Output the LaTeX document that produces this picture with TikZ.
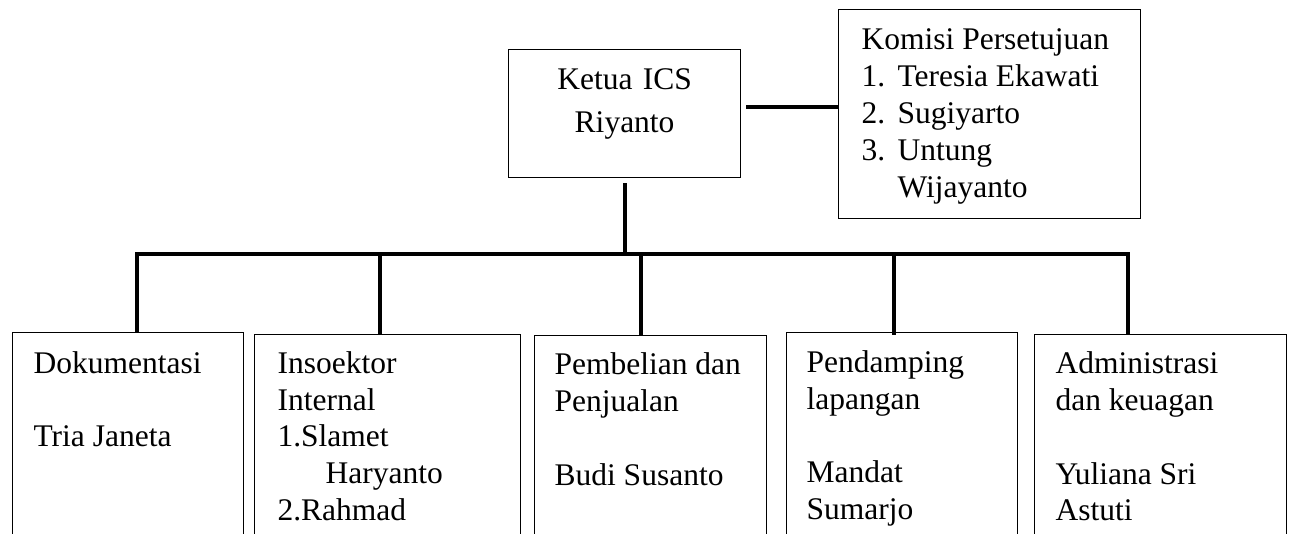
\documentclass[tikz,border=0pt]{standalone}
\usepackage{fontspec}
\setmainfont{Liberation Serif}
\tikzset{
  box/.style={draw, line width=1.2pt, rectangle, anchor=north west, inner ysep=0pt,
    align=left, font=\fontsize{31.5}{36.8}\selectfont,
    execute at begin node={\spaceskip=\fontdimen2\font plus \fontdimen3\font minus \fontdimen4\font\relax}},
  conn/.style={line width=4pt}
}
\begin{document}
\begin{tikzpicture}[x=1pt,y=-1pt]
\useasboundingbox (0,0) rectangle (1293,533);
\fill[white] (0,0) rectangle (1293,533);
\clip (0,0) rectangle (1293,533);

% top boxes
\node[box, align=center, font=\fontsize{31.5}{42.4}\selectfont, inner xsep=10pt,
  text width=212pt, text height=40.3pt, text depth=87.7pt] (ketua) at (508,49)
  {Ketua ICS\\ Riyanto};
\node[box, inner xsep=23pt, text width=256pt, text height=40.3pt, text depth=168.7pt]
  (komisi) at (838,9)
  {Komisi Persetujuan\\
   \makebox[36pt][l]{1.}Teresia Ekawati\\
   \makebox[36pt][l]{2.}Sugiyarto\\
   \makebox[36pt][l]{3.}Untung\\
   \hspace*{36pt}Wijayanto};

% bottom boxes
\node[box, inner xsep=21pt, text width=189pt, text height=40.7pt, text depth=172.3pt]
  (dok) at (12,332) {Dokumentasi\\ \mbox{}\\ Tria Janeta};
\node[box, inner xsep=23pt, text width=220pt, text height=38.7pt, text depth=172.3pt]
  (ins) at (254,334) {Insoektor\\ Internal\\ 1.Slamet\\ \hspace*{48pt}Haryanto\\ 2.Rahmad};
\node[box, inner xsep=20pt, text width=192pt, text height=39pt, text depth=171pt]
  (pem) at (534,335) {Pembelian dan\\ Penjualan\\ \mbox{}\\ Budi Susanto};
\node[box, inner xsep=20pt, text width=191pt, text height=39.7pt, text depth=173.3pt]
  (pen) at (786,332) {Pendamping\\ lapangan\\ \mbox{}\\ Mandat\\ Sumarjo};
\node[box, inner xsep=21pt, text width=210pt, text height=39pt, text depth=172pt]
  (adm) at (1034,334) {Administrasi\\ dan keuagan\\ \mbox{}\\ Yuliana Sri\\ Astuti};

% connectors
\coordinate (kk) at (746,107);
\draw[conn] (kk) -- (kk -| komisi.west);

\coordinate (b1) at (137,254);
\coordinate (b2) at (380,254);
\coordinate (b3) at (641,254);
\coordinate (b4) at (894,254);
\coordinate (b5) at (1128,254);
\coordinate (bt) at (625,254);

\draw[conn] ([yshift=-5pt]ketua.south -| bt) -- (bt);
\draw[conn] (b1 |- dok.north) -- (b1) -- (b5) -- (b5 |- adm.north);
\draw[conn] (b2) -- (b2 |- ins.north);
\draw[conn] (b3) -- (b3 |- pem.north);
\draw[conn] (b4) -- ([yshift=-3pt]b4 |- pen.north);
\end{tikzpicture}
\end{document}
